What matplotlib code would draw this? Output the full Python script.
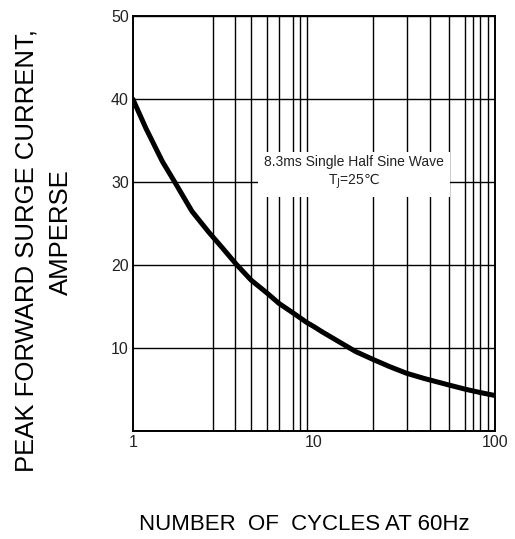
import matplotlib
matplotlib.use('Agg')
import matplotlib.pyplot as plt
from matplotlib.ticker import FixedLocator, NullFormatter

plt.rcParams['font.family'] = ['Liberation Sans', 'DejaVu Sans']

# curve
cycles = [1, 1.18, 1.455, 1.705, 2.12, 2.62, 3.09, 3.73, 4.5, 5.54, 6.41, 7.73, 9.13, 10,
          11.05, 13.7, 17.0, 21.1, 26.2, 32.5, 40.4, 55.8, 69.2, 84.1, 100]
current = [40, 36.5, 32.5, 30.0, 26.5, 24.0, 22.2, 20.1, 18.2, 16.6, 15.4, 14.2, 13.1, 12.6,
           12.0, 10.8, 9.6, 8.67, 7.78, 6.98, 6.37, 5.56, 5.04, 4.63, 4.3]

# vertical grid lines as drawn on the original (not quite regular)
xgrid = [2.78, 3.66, 4.5, 5.5, 6.4, 7.7, 8.4, 9.2, 10,
         21.1, 32.5, 43.6, 55.7, 68.6, 75.5, 82.4, 91.6]
xticks = [1, 10, 100]
xticklabels = ['1', '10', '100']
yticks = [10, 20, 30, 40, 50]

fig = plt.figure(figsize=(5.15, 5.39), dpi=100)
ax = fig.add_axes([0.258, 0.2, 0.703, 0.77])

ax.set_xscale('log')
ax.set_xlim(1, 100)
ax.set_ylim(0, 50)

ax.xaxis.set_major_locator(FixedLocator(xticks))
ax.set_xticklabels(xticklabels)
ax.xaxis.set_minor_locator(FixedLocator(xgrid))
ax.xaxis.set_minor_formatter(NullFormatter())
ax.set_yticks(yticks)

ax.grid(True, which='minor', axis='x', color='black', lw=1.0)
ax.grid(True, which='major', axis='y', color='black', lw=1.0)
ax.tick_params(which='both', length=0, labelsize=11.5, colors='#222222', pad=3)

for s in ax.spines.values():
    s.set_linewidth(1.4)

ax.plot(cycles, current, color='black', lw=3.6, solid_capstyle='round',
        solid_joinstyle='round', zorder=3)

ax.text(16.6, 31.1, '8.3ms Single Half Sine Wave\nT$_\\mathrm{J}$=25$\\mathrm{\u2103}$',
        ha='center', va='center', fontsize=10, color='#222222', linespacing=1.2,
        bbox=dict(boxstyle='square,pad=0.45', facecolor='white', edgecolor='none'), zorder=4)

fig.text(0.052, 0.536, 'PEAK FORWARD SURGE CURRENT,', rotation=90, ha='center', va='center', fontsize=18.5)
fig.text(0.118, 0.57, 'AMPERSE', rotation=90, ha='center', va='center', fontsize=18.5)
fig.text(0.59, 0.026, 'NUMBER  OF  CYCLES AT 60Hz', ha='center', va='center', fontsize=16)

fig.savefig('out.png', dpi=100)
